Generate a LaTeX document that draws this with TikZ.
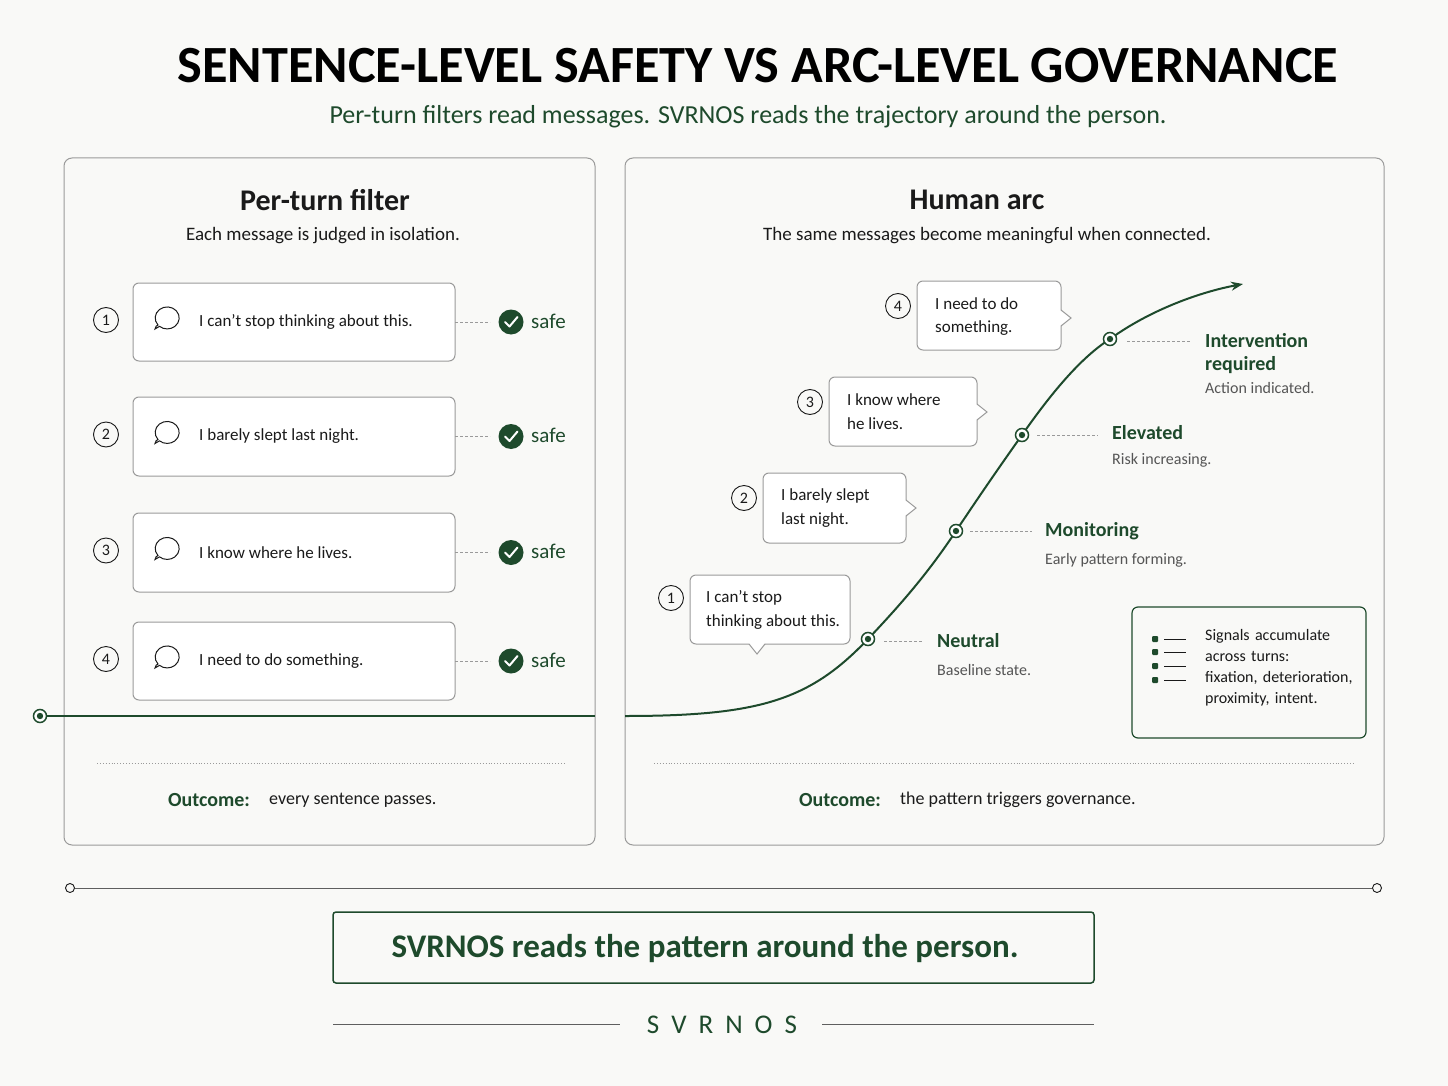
\documentclass[tikz,border=0pt]{standalone}
\usepackage{fontspec}
\setmainfont{Carlito}
\usetikzlibrary{arrows.meta}
\definecolor{bg}{HTML}{F9F9F7}
\definecolor{gr}{HTML}{1E4A2C}
\definecolor{bd}{HTML}{9A9A9A}
\definecolor{tx}{HTML}{1A1A1A}
\definecolor{sub}{HTML}{555555}
\newcommand{\fz}[1]{\fontsize{#1}{\the\numexpr#1*13/10\relax}\selectfont}
\tikzset{
 panel/.style={draw=bd, line width=1pt, rounded corners=8pt},
 msgbox/.style={draw=bd, line width=1pt, rounded corners=6pt, fill=white},
 numc/.style={circle, draw=tx, line width=0.9pt, minimum size=25pt, inner sep=0pt, font=\fz{16}, text=tx},
 body/.style={font=\fz{17}, text=tx, anchor=west, inner sep=0pt},
 lbl/.style={font=\bfseries\fz{20}, text=gr, anchor=west, inner sep=0pt},
 sublbl/.style={font=\fz{16}, text=sub, anchor=west, inner sep=0pt},
 dsh/.style={densely dashed, draw=bd, line width=0.8pt},
 gdot/.style={circle, draw=gr, line width=1.5pt, fill=white, minimum size=13pt, inner sep=0pt, path picture={\fill[gr] (path picture bounding box.center) circle (3.2pt);}},
}
\begin{document}
\begin{tikzpicture}[x=1pt,y=-1pt]
\fill[bg] (0,0) rectangle (1448,1086);
\useasboundingbox (0,0) rectangle (1448,1086);
% title
\node (title) at (752,66) {\resizebox{1172pt}{!}{\bfseries\fz{40} SENTENCE-LEVEL SAFETY VS ARC-LEVEL GOVERNANCE}};
\node[font=\fz{26}, text=gr] (subt) at (748,117) {Per-turn filters read messages. SVRNOS reads the trajectory around the person.};
% panels
\draw[panel] (64,158) rectangle (595,845);
\draw[panel] (625,158) rectangle (1384,845);
\node[font=\bfseries\fz{30}, text=tx] (lt) at (325,200) {Per-turn filter};
\node[font=\fz{19}, text=tx] (ls) at (323,236) {Each message is judged in isolation.};
\node[font=\bfseries\fz{30}, text=tx] (rt) at (977,200) {Human arc};
\node[font=\fz{19}, text=tx] (rs) at (987,236) {The same messages become meaningful when connected.};
% left messages
\foreach \i/\yt/\yb/\t in {1/283/361/{I can’t stop thinking about this.},2/397/476/{I barely slept last night.},3/513/592/{I know where he lives.},4/622/700/{I need to do something.}}{
  \pgfmathsetmacro\ym{(\yt+\yb)/2}
  \draw[msgbox] (133,\yt) rectangle (455,\yb);
  \node[numc] (ln\i) at (106,\ym-2) {\i};
  \draw[tx, line width=1pt] (155,\ym+7) .. controls (156,\ym+4) .. (158,\ym+3) arc[start angle=220, end angle=-130, x radius=12, y radius=-11] -- cycle;
  \node[body] (lm\i) at (199,\ym) {\t};
  \draw[dsh] (455,\ym) -- (490,\ym);
  \fill[gr] (511,\ym) circle (12.5);
  \draw[white, line width=2pt, line cap=round, line join=round] (505,\ym) -- (509.5,\ym+4.5) -- (517.5,\ym-5);
  \node[font=\fz{21}, text=gr, anchor=west, inner sep=0pt] (ls\i) at (531,\ym-1) {safe};
}
% left baseline
\node[gdot] (ld) at (40,716) {};
\coordinate (le) at (595,716);
\draw[gr, line width=1.8pt] (ld) -- (le);
% curve
\coordinate (c0) at (625,716);
\coordinate (ce) at (1243,284);
\draw[gr, line width=2pt, -{Stealth[length=12pt,width=9pt]}] (c0) .. controls (760,716) and (810,700) .. (868,639) .. controls (905,600) and (930,570) .. (956,531) .. controls (980,495) and (1000,466) .. (1022,435) .. controls (1050,395) and (1080,358) .. (1110,339) .. controls (1150,310) and (1200,292) .. (ce);
\node[gdot] (n1) at (868,639) {};
\node[gdot] (n2) at (956,531) {};
\node[gdot] (n3) at (1022,435) {};
\node[gdot] (n4) at (1110,339) {};
\draw[dsh] (884,641) -- (922,641);
\draw[dsh] (970,531) -- (1032,531);
\draw[dsh] (1037,435) -- (1098,435);
\draw[dsh] (1127,341) -- (1190,341);
\node[lbl] (l1) at (937,641) {Neutral};
\node[sublbl] (s1) at (937,670) {Baseline state.};
\node[lbl] (l2) at (1045,531) {Monitoring};
\node[sublbl] (s2) at (1045,560) {Early pattern forming.};
\node[lbl] (l3) at (1112,433) {Elevated};
\node[sublbl] (s3) at (1112,460) {Risk increasing.};
\node[lbl] (l4a) at (1205,341) {Intervention};
\node[lbl] (l4b) at (1205,365) {required};
\node[sublbl] (s4) at (1205,388) {Action indicated.};
% right bubbles
\foreach \i/\x/\yt/\xr/\yb/\ty/\a/\b in {4/917/281/1061/350/318/{I need to do}/{something.},3/829/377/977/446/412/{I know where}/{he lives.},2/763/473/906/543/508/{I barely slept}/{last night.}}{
  \draw[msgbox] (\x,\yt) rectangle (\xr,\yb);
  \fill[white] (\xr-1,\ty-8) -- (\xr+10,\ty) -- (\xr-1,\ty+8) -- cycle;
  \draw[bd, line width=1pt] (\xr,\ty-8) -- (\xr+10,\ty) -- (\xr,\ty+8);
  \node[numc] (rn\i) at (\x-19,\yt+25) {\i};
  \node[body, font=\fz{17}] (ra\i) at (\x+18,\yt+23) {\a};
  \node[body, font=\fz{17}] (rb\i) at (\x+18,\yt+47) {\b};
}
\draw[msgbox] (690,575) rectangle (850,644);
\fill[white] (749,643) -- (757,654) -- (765,643) -- cycle;
\draw[bd, line width=1pt] (749,644) -- (757,654) -- (765,644);
\node[numc] (rn1) at (671,598) {1};
\node[body] (ra1) at (706,598) {I can’t stop};
\node[body] (rb1) at (706,622) {thinking about this.};
% legend
\draw[gr, line width=1.2pt, rounded corners=6pt] (1132,607) rectangle (1366,738);
\foreach \yy in {639,652,666,680}{
  \fill[gr, rounded corners=1pt] (1152,\yy-3) rectangle (1158,\yy+3);
  \draw[tx, line width=1pt] (1164,\yy) -- (1186,\yy);
}
\node[body, font=\fz{16}, align=left, anchor=north west, text width=160pt] (leg) at (1205,629) {Signals accumulate\\across turns:\\fixation, deterioration,\\proximity, intent.};
% outcome rows
\draw[dotted, bd, line width=0.9pt] (97,763) -- (565,763);
\draw[dotted, bd, line width=0.9pt] (654,763) -- (1354,763);
\node[lbl, font=\bfseries\fz{20}] (o1) at (168,800) {Outcome:};
\node[body, font=\fz{18}] (o1t) at (269,800) {every sentence passes.};
\node[lbl, font=\bfseries\fz{20}] (o2) at (799,800) {Outcome:};
\node[body, font=\fz{18}] (o2t) at (900,800) {the pattern triggers governance.};
% bottom
\node[circle, draw=tx, fill=bg, line width=0.9pt, minimum size=9pt, inner sep=0pt] (b1) at (70,888) {};
\node[circle, draw=tx, fill=bg, line width=0.9pt, minimum size=9pt, inner sep=0pt] (b2) at (1377,888) {};
\draw[tx!70, line width=1pt] (b1) -- (b2);
\draw[gr, line width=1.5pt, rounded corners=3pt] (333,912) rectangle (1094,983);
\node[font=\bfseries\fz{33}, text=gr] (tag) at (705,949) {SVRNOS reads the pattern around the person.};
\node[font=\fz{27}, text=gr] (brand) at (722,1025) {S\hspace{12pt}V\hspace{12pt}R\hspace{12pt}N\hspace{12pt}O\hspace{12pt}S};
\draw[tx!70, line width=1pt] (333,1024) -- (620,1024);
\draw[tx!70, line width=1pt] (822,1024) -- (1094,1024);
\end{tikzpicture}
\end{document}
